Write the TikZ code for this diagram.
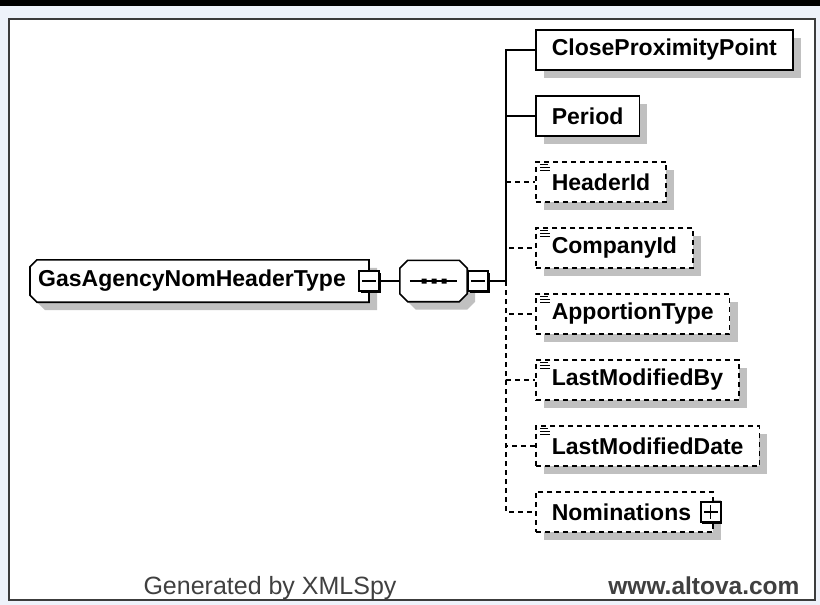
\documentclass[tikz,border=0pt]{standalone}
\usepackage{fontspec}
\setmainfont{Liberation Sans}
\usetikzlibrary{shadows}
\definecolor{bgblue}{HTML}{EEF2FA}
\definecolor{framegray}{HTML}{3C3C3C}
\definecolor{shadowgray}{HTML}{C0C0C0}
\definecolor{footgray}{HTML}{404040}
\pgfdeclarelayer{bg}
\pgfdeclarelayer{mid}
\pgfsetlayers{bg,mid,main}

\begin{document}
\begin{tikzpicture}[x=1pt,y=-1pt,
    conn/.style={line width=1.6pt},
    opt/.style={dash pattern=on 5pt off 4pt},
    shad/.style={drop shadow={shadow xshift=8pt,shadow yshift=-8pt,fill=shadowgray,opacity=1}},
    label/.style={font=\fontsize{23}{27}\bfseries\selectfont},
    elem/.style={draw,shad,fill=white,line width=1.6pt,anchor=west,minimum height=40pt,
        inner xsep=16pt,label},
    optelem/.style={elem,opt},
    outline/.style={line width=1.6pt,fill=white,shad},
    toggle/.style={draw,fill=white,line width=1.4pt,minimum size=20pt,inner sep=0pt,
        drop shadow={shadow xshift=1.6pt,shadow yshift=-1.6pt,fill=black,opacity=1}},
    minus/.style={toggle,path picture={\draw[line width=1.2pt]
        ([xshift=3pt]path picture bounding box.west) -- ([xshift=-3pt]path picture bounding box.east);}},
    plus/.style={toggle,path picture={\draw[line width=1.2pt]
        ([xshift=3pt]path picture bounding box.west) -- ([xshift=-3pt]path picture bounding box.east)
        ([yshift=-3pt]path picture bounding box.north) -- ([yshift=3pt]path picture bounding box.south);}},
    simple/.style={line width=1.1pt}]
    \useasboundingbox (0,0) rectangle (820,605);
    \begin{pgfonlayer}{bg}
        \fill[bgblue] (0,0) rectangle (820,605);
        \fill[black] (0,0) rectangle (820,6);
        \draw[framegray,line width=2.5pt,fill=white] (9,19) rectangle (815,600);
    \end{pgfonlayer}

    \node[anchor=west,minimum height=42pt,inner xsep=8pt,label]
        (root) at (30,281) {GasAgencyNomHeaderType\hspace{15pt}\mbox{}};
    \node[minus] (rootbox) at (root.east) {};
    \node[minimum width=67pt,minimum height=41pt] (seq) at (433.5,281) {};
    \node[minus,anchor=west] (seqbox) at (seq.east) {};
    \begin{pgfonlayer}{mid}
        \draw[outline] ([xshift=7pt]root.north west) -- (root.north east)
            -- (root.south east) -- ([xshift=7pt]root.south west) -- ([yshift=7pt]root.south west)
            -- ([yshift=-7pt]root.north west) -- cycle;
        \draw[outline] ([xshift=8pt]seq.north west) -- ([xshift=-8pt]seq.north east)
            -- ([yshift=-8pt]seq.north east) -- ([yshift=8pt]seq.south east) -- ([xshift=-8pt]seq.south east)
            -- ([xshift=8pt]seq.south west) -- ([yshift=8pt]seq.south west) -- ([yshift=-8pt]seq.north west) -- cycle;
    \end{pgfonlayer}
    \draw[line width=1.4pt] ([xshift=10pt]seq.west) -- ([xshift=-10pt]seq.east);
    \fill (421.5,278.5) rectangle ++(5,5) (431.5,278.5) rectangle ++(5,5) (441.5,278.5) rectangle ++(5,5);

    \coordinate (bus) at (506,281);
    \draw[conn] (rootbox.east) -- (seq.west);
    \draw[conn] (seqbox.east) -- (bus);

    \node[elem] (cpp) at (535,50) {CloseProximityPoint};
    \node[elem] (period) at (535,116) {Period};
    \node[optelem] (headerid) at (535,182) {HeaderId};
    \node[optelem] (companyid) at (535,248) {CompanyId};
    \node[optelem] (apportion) at (535,314) {ApportionType};
    \node[optelem] (modby) at (535,380) {LastModifiedBy};
    \node[optelem] (moddate) at (535,446) {LastModifiedDate};
    \node[optelem] (nominations) at (535,512) {Nominations\hspace{6pt}\mbox{}};
    \node[plus] (nomplus) at ([xshift=-3pt]nominations.east) {};

    \foreach \n in {headerid,companyid,apportion,modby,moddate} {
        \draw[simple] ([xshift=5pt,yshift=-3pt]\n.north west) -- ++(8,0)
            ([xshift=5pt,yshift=-6pt]\n.north west) -- ++(10,0)
            ([xshift=5pt,yshift=-9pt]\n.north west) -- ++(10,0);
    }

    \draw[conn] (bus) |- (cpp.west);
    \draw[conn] (bus) |- (period.west);
    \draw[conn,opt] (bus) |- (headerid.west);
    \draw[conn,opt] (bus) |- (companyid.west);
    \draw[conn,opt] (bus) |- (apportion.west);
    \draw[conn,opt] (bus) |- (modby.west);
    \draw[conn,opt] (bus) |- (moddate.west);
    \draw[conn,opt] (bus) |- (nominations.west);

    \node[anchor=base west,text=footgray,font=\fontsize{25}{29}\selectfont] (gen) at (140,594) {Generated by XMLSpy};
    \node[anchor=base east,text=footgray,font=\fontsize{24.5}{29}\bfseries\selectfont] (web) at (803,594) {www.altova.com};
\end{tikzpicture}
\end{document}
